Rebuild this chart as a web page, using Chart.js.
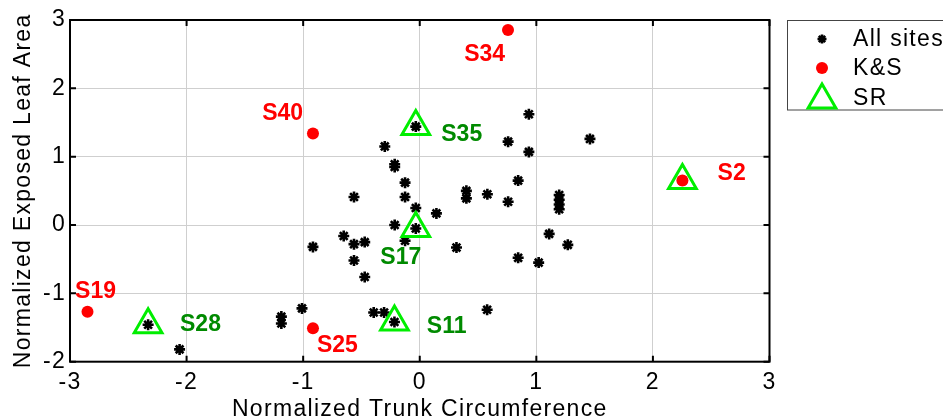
<!DOCTYPE html>
<html>
<head>
<meta charset="utf-8">
<script src="https://cdn.jsdelivr.net/npm/chart.js@4.4.0/dist/chart.umd.min.js"></script>
<style>
  html, body { margin: 0; padding: 0; background: #fff; }
</style>
</head>
<body>
<canvas id="chart" width="943" height="420"></canvas>
<script>
// tick values
const xTicks = [-3, -2, -1, 0, 1, 2, 3];
const yTicks = [-2, -1, 0, 1, 2, 3];

// all sites (black asterisks)
const allSitesX = [-0.034, -0.30, -0.215, -0.215, -0.126, -0.126, -0.034, 0.143, -0.564, -0.034,
  -0.215, -0.652, -0.564, -0.472, -0.126, -0.916, -0.564, -0.472, 0.315, 0.844,
  1.02, 1.11, 1.27, 0.40, 0.40, 0.58, 0.758, 0.844, 0.758, 0.936,
  0.936, 1.196, 1.196, 1.196, 1.196, 1.46, -1.187, -1.187, -1.01, -0.395,
  -0.306, -0.217, 0.578, -2.33, -2.06, 2.253];
const allSitesY = [1.44, 1.15, 0.89, 0.85, 0.62, 0.41, 0.25, 0.17, 0.41, -0.05,
  0.0, -0.16, -0.28, -0.25, -0.23, -0.32, -0.52, -0.76, -0.33, -0.48,
  -0.55, -0.13, -0.29, 0.50, 0.39, 0.45, 0.34, 0.65, 1.22, 1.62,
  1.07, 0.44, 0.37, 0.30, 0.23, 1.26, -1.34, -1.44, -1.22, -1.28,
  -1.28, -1.42, -1.24, -1.46, -1.82, 0.65];

// K&S sites (red dots): S34, S40, S2, S19, S25
const ksX = [0.757, -0.916, 2.253, -2.85, -0.916];
const ksY = [2.855, 1.34, 0.65, -1.27, -1.51];

// SR sites (green triangles): S35, S17, S11, S28, S2
const srX = [-0.034, -0.034, -0.217, -2.33, 2.253];
const srY = [1.44, -0.05, -1.42, -1.46, 0.65];

// site name annotations (text centre in data units)
const ksNames = ["S34", "S40", "S2", "S19", "S25"];
const ksNameX = [0.557, -1.176, 2.675, -2.781, -0.706];
const ksNameY = [2.49, 1.634, 0.757, -0.976, -1.768];
const srNames = ["S35", "S17", "S11", "S28"];
const srNameX = [0.36, -0.163, 0.231, -1.881];
const srNameY = [1.317, -0.471, -1.488, -1.463];

const FONT = "'Liberation Sans', Arial, sans-serif";
const GREEN = "#00ee00";

function toPoints(xs, ys) {
  return xs.map((x, i) => ({ x: x, y: ys[i] }));
}

const framePlugin = {
  id: "frame",
  beforeDraw(chart) {
    chart.ctx.letterSpacing = "1.3px";
  },
  afterDatasetsDraw(chart) {
    const ctx = chart.ctx;
    const a = chart.chartArea;
    const xs = chart.scales.x, ys = chart.scales.y;
    ctx.save();
    ctx.strokeStyle = "#000";
    ctx.lineWidth = 2;
    ctx.strokeRect(a.left, a.top, a.right - a.left, a.bottom - a.top);
    const tl = 6;
    ctx.beginPath();
    xTicks.forEach(v => {
      const px = xs.getPixelForValue(v);
      ctx.moveTo(px, a.bottom); ctx.lineTo(px, a.bottom - tl);
      ctx.moveTo(px, a.top); ctx.lineTo(px, a.top + tl);
    });
    yTicks.forEach(v => {
      const py = ys.getPixelForValue(v);
      ctx.moveTo(a.left, py); ctx.lineTo(a.left + tl, py);
      ctx.moveTo(a.right, py); ctx.lineTo(a.right - tl, py);
    });
    ctx.stroke();

    // site names
    ctx.letterSpacing = "0px";
    ctx.font = "bold 23px " + FONT;
    ctx.textAlign = "center";
    ctx.textBaseline = "middle";
    ctx.fillStyle = "#ff0000";
    ksNames.forEach((n, i) => {
      ctx.fillText(n, xs.getPixelForValue(ksNameX[i]), ys.getPixelForValue(ksNameY[i]));
    });
    ctx.fillStyle = "#008a00";
    srNames.forEach((n, i) => {
      ctx.fillText(n, xs.getPixelForValue(srNameX[i]), ys.getPixelForValue(srNameY[i]));
    });

    // legend box
    ctx.letterSpacing = "1.3px";
    ctx.lineWidth = 1;
    ctx.strokeStyle = "#444";
    ctx.strokeRect(787.5, 20.5, 200, 89.5);
    const rows = [39, 68, 98];
    chart.data.datasets.forEach((ds, i) => {
      ctx.fillStyle = ds.backgroundColor;
      ctx.strokeStyle = ds.borderColor;
      ctx.lineWidth = ds.borderWidth;
      Chart.helpers.drawPoint(ctx, {
        pointStyle: ds.pointStyle,
        radius: ds.pointStyle === "star" ? 4.5 : ds.pointRadius,
        rotation: 0,
        borderWidth: ds.borderWidth
      }, 822, rows[i] + (ds.pointStyle === "triangle" ? 2 : 0));
      ctx.fillStyle = "#000";
      ctx.font = "23px " + FONT;
      ctx.textAlign = "left";
      ctx.fillText(ds.label, 853, rows[i] + 1);
    });
    ctx.restore();
  }
};

new Chart(document.getElementById("chart"), {
  type: "scatter",
  data: {
    datasets: [
      {
        label: "All sites",
        data: toPoints(allSitesX, allSitesY),
        pointStyle: "star",
        pointRadius: 5.5,
        borderWidth: 2.6,
        borderColor: "#000",
        backgroundColor: "#000",
        order: 2
      },
      {
        label: "K&S",
        data: toPoints(ksX, ksY),
        pointStyle: "circle",
        pointRadius: 6,
        borderWidth: 0,
        borderColor: "#ff0000",
        backgroundColor: "#ff0000",
        order: 0
      },
      {
        label: "SR",
        data: toPoints(srX, srY),
        pointStyle: "triangle",
        pointRadius: 16,
        borderWidth: 3,
        borderColor: GREEN,
        backgroundColor: "rgba(0,0,0,0)",
        order: 1
      }
    ]
  },
  options: {
    responsive: false,
    animation: false,
    events: [],
    layout: { padding: { top: 20, right: 173.5, bottom: 0, left: 0 } },
    plugins: { legend: { display: false }, tooltip: { enabled: false } },
    scales: {
      x: {
        type: "linear",
        min: -3, max: 3,
        afterBuildTicks: s => { s.ticks = xTicks.map(v => ({ value: v })); },
        afterFit: s => { s.height = 58.3; },
        grid: { color: "#cfcfcf", lineWidth: 1, drawTicks: false },
        border: { display: false },
        ticks: { color: "#000", font: { family: FONT, size: 23 }, padding: 7, autoSkip: false, maxRotation: 0 },
        title: {
          display: true, text: "Normalized Trunk Circumference", color: "#000",
          font: { family: FONT, size: 23 }, padding: { top: 0, bottom: -3 }
        }
      },
      y: {
        type: "linear",
        min: -2, max: 3,
        afterBuildTicks: s => { s.ticks = yTicks.map(v => ({ value: v })); },
        afterFit: s => { s.width = 70; },
        grid: { color: "#cfcfcf", lineWidth: 1, drawTicks: false },
        border: { display: false },
        ticks: { color: "#000", font: { family: FONT, size: 23 }, padding: 4, autoSkip: false },
        title: {
          display: true, text: "Normalized Exposed Leaf Area", color: "#000",
          font: { family: FONT, size: 23 }, padding: { top: 10, bottom: 0 }
        }
      }
    }
  },
  plugins: [framePlugin]
});
</script>
</body>
</html>
